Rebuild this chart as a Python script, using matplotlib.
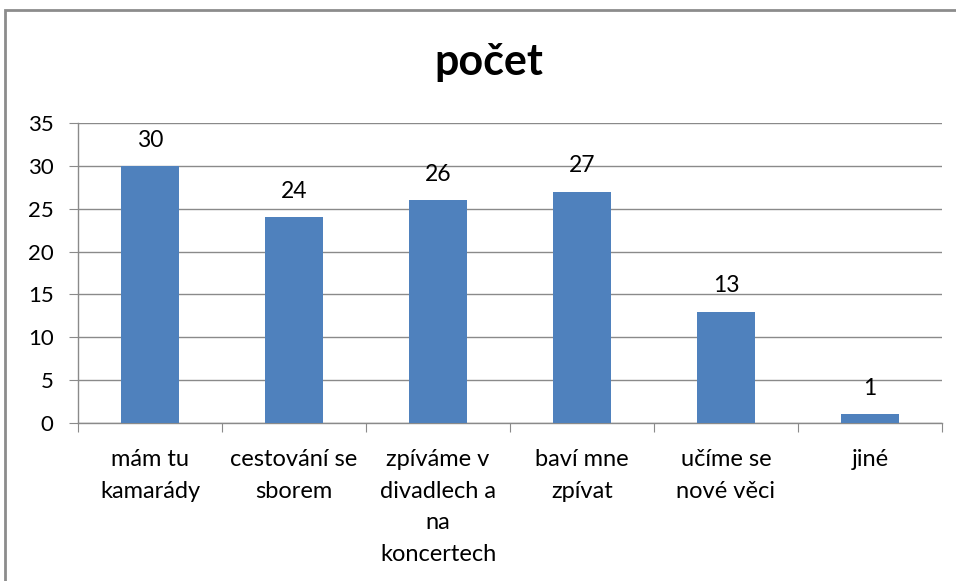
import matplotlib
matplotlib.use("Agg")
import matplotlib.pyplot as plt
from matplotlib.patches import Rectangle
import numpy as np

categories = ["mám tu\nkamarády", "cestování se\nsborem", "zpíváme v\ndivadlech a\nna\nkoncertech",
              "baví mne\nzpívat", "učíme se\nnové věci", "jiné"]
values = [30, 24, 26, 27, 13, 1]
yticks = [0, 5, 10, 15, 20, 25, 30, 35]
title = "počet"

plt.rcParams['font.family'] = ['Lato', 'DejaVu Sans']

fig = plt.figure(figsize=(9.56, 5.81), dpi=100)
fig.patch.set_facecolor('white')
# outer chart frame
fig.patches.append(Rectangle((5/956, -0.1), 1.1, 1 - 10/581 + 0.1, transform=fig.transFigure,
                             fill=False, edgecolor='#8c8c8c', linewidth=2.0))

ax = fig.add_axes([78/956, 1 - 423/581, (942 - 78)/956, (423 - 123)/581])
x = np.arange(len(values))
bars = ax.bar(x, values, width=0.4, color='#4F81BD', zorder=3)
ax.set_xlim(-0.5, len(values) - 0.5)
ax.set_ylim(0, 35)
ax.set_yticks(yticks)
ax.yaxis.grid(True, color='#8a8a8a', linewidth=1.0, zorder=0)
ax.set_axisbelow(True)

for s in ['top', 'right']:
    ax.spines[s].set_visible(False)
for s in ['left', 'bottom']:
    ax.spines[s].set_color('#8a8a8a')
    ax.spines[s].set_linewidth(1.0)

ax.tick_params(axis='y', length=6.5, color='#8a8a8a', pad=11, labelsize=16, labelcolor='black')
ax.set_xticks(np.arange(len(values) + 1) - 0.5)
ax.set_xticklabels([])
ax.tick_params(axis='x', length=6.5, color='#8a8a8a')
ax.set_xticks(x, minor=True)
ax.set_xticklabels(categories, minor=True, fontsize=17, linespacing=1.62, va='top')
ax.tick_params(axis='x', which='minor', length=0, pad=19)

for xi, v in zip(x, values):
    ax.annotate(str(v), (xi, v), xytext=(0, 11), textcoords='offset points',
                ha='center', va='bottom', fontsize=16.5)

fig.text(489/956, 1 - 62/581, title, ha='center', va='center', fontsize=31, fontweight='bold')

fig.savefig('out.png', dpi=100)
